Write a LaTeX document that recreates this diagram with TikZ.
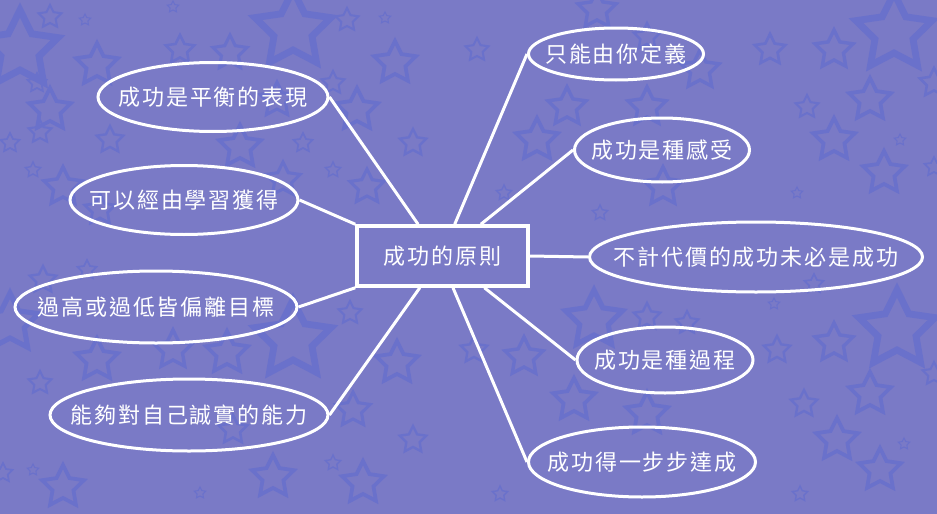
\documentclass[tikz,border=0pt]{standalone}
\usepackage{fontspec}
\newfontfamily\cjk{Noto Sans CJK TC}[LetterSpace=9]
\usetikzlibrary{shapes.geometric,calc}

\newlength{\du}
\setlength{\du}{0.5\unitlength}

\definecolor{bgpurple}{rgb}{0.478000, 0.478000, 0.776000}
\definecolor{starblue}{rgb}{0.415000, 0.445000, 0.795000}

% text of an ellipse takes no room, so the ellipse keeps its given size
\newcommand{\ideatext}[1]{\makebox[0pt]{#1}}

\tikzset{
  idea/.style={ellipse, draw=white, line width=3\du, text=white, inner sep=0pt,
    font=\cjk\fontsize{11}{13}\selectfont},
  mainbox/.style={rectangle, draw=white, line width=3.5\du, text=white, inner sep=0pt,
    font=\cjk\fontsize{11}{13}\selectfont},
  link/.style={draw=white, line width=3\du},
  bgstar/.style={draw=starblue, line join=miter},
}

\begin{document}
\begin{tikzpicture}
\pgftransformxscale{1.000000}
\pgftransformyscale{-1.000000}
% background
\fill[bgpurple] (0\du,0\du) rectangle (937\du,514\du);
\useasboundingbox (0\du,0\du) rectangle (937\du,514\du);
% stars
\begin{scope}
\clip (0\du,0\du) rectangle (937\du,514\du);
\foreach \sx/\sy/\sr in {20/50/40, 50/17/12, 85/20/6, 97/65/22, 37/83/10, 50/110/22,
  40/132/12, 110/140/14, 10/143/10, 33/170/8, 63/187/20, 100/210/16, 180/50/15,
  173/7/6, 230/53/18, 293/30/40, 347/20/12, 385/18/6, 395/63/22, 357/110/22,
  333/83/12, 277/100/18, 240/147/22, 303/143/10, 413/143/14, 367/187/18,
  283/180/18, 333/170/8, 477/50/12, 537/140/22, 567/107/20, 597/10/20, 647/37/14,
  700/70/20, 647/107/20, 663/187/20, 600/213/8, 504/193/8, 770/50/16, 834/50/20,
  894/33/40, 870/100/22, 807/107/12, 834/140/22, 884/173/22, 797/193/6, 900/140/6,
  934/83/15, 934/167/10, 43/280/14, 87/270/10, 10/323/30, 97/360/22, 40/383/12,
  173/350/20, 227/353/22, 293/340/40, 350/313/12, 397/363/22, 353/410/18,
  413/440/14, 63/487/22, 3/473/10, 33/470/6, 200/493/6, 273/477/22, 363/483/22,
  333/463/8, 233/430/15, 594/320/30, 524/357/20, 474/350/14, 647/317/14,
  687/323/12, 574/400/22, 647/414/22, 777/350/14, 834/343/20, 897/330/40,
  804/404/14, 870/394/22, 837/440/22, 880/470/22, 934/374/12, 500/494/8,
  800/494/8, 904/444/6, 774/304/6, 814/284/10}{
  \draw[bgstar, line width=0.17*\sr\du] (\sx\du,\sy\du) +(-90:\sr\du)
    -- +(-54:0.5*\sr\du) -- +(-18:\sr\du) -- +(18:0.5*\sr\du) -- +(54:\sr\du)
    -- +(90:0.5*\sr\du) -- +(126:\sr\du) -- +(162:0.5*\sr\du) -- +(198:\sr\du)
    -- +(234:0.5*\sr\du) -- cycle;
}
\end{scope}
% centre box
\node[mainbox, minimum width=171\du, minimum height=60\du] (principle) at (442.500000\du,256.000000\du){成功的原則};
% left side
\node[idea, minimum width=230\du, minimum height=69\du] (balance) at (213.000000\du,97.000000\du){\ideatext{成功是平衡的表現}};
\node[idea, minimum width=228\du, minimum height=69\du] (learn) at (184.000000\du,200.000000\du){\ideatext{可以經由學習獲得}};
\node[idea, minimum width=282\du, minimum height=72\du] (target) at (156.000000\du,307.000000\du){\ideatext{過高或過低皆偏離目標}};
\node[idea, minimum width=278\du, minimum height=72\du] (honest) at (189.000000\du,415.000000\du){\ideatext{能夠對自己誠實的能力}};
% right side
\node[idea, minimum width=175\du, minimum height=52\du] (define) at (616.000000\du,54.000000\du){\ideatext{只能由你定義}};
\node[idea, minimum width=175\du, minimum height=64\du] (feeling) at (662.000000\du,150.000000\du){\ideatext{成功是種感受}};
\node[idea, minimum width=333\du, minimum height=70\du] (price) at (756.000000\du,257.000000\du){\ideatext{不計代價的成功未必是成功}};
\node[idea, minimum width=176\du, minimum height=66\du] (process) at (665.000000\du,360.000000\du){\ideatext{成功是種過程}};
\node[idea, minimum width=227\du, minimum height=70\du] (steps) at (642.000000\du,462.000000\du){\ideatext{成功得一步步達成}};
% connectors
\draw[link] ($(principle.north west)!0.36!(principle.north east)$) -- (balance.east);
\draw[link] (principle.north west) -- (learn.east);
\draw[link] (principle.south west) -- (target.east);
\draw[link] ($(principle.south west)!0.37!(principle.south east)$) -- (honest.east);
\draw[link] ($(principle.north west)!0.57!(principle.north east)$) -- (define.west);
\draw[link] ($(principle.north west)!0.72!(principle.north east)$) -- (feeling.west);
\draw[link] (principle.east) -- (price.west);
\draw[link] ($(principle.south west)!0.74!(principle.south east)$) -- (process.west);
\draw[link] ($(principle.south west)!0.56!(principle.south east)$) -- (steps.west);
\end{tikzpicture}
\end{document}
